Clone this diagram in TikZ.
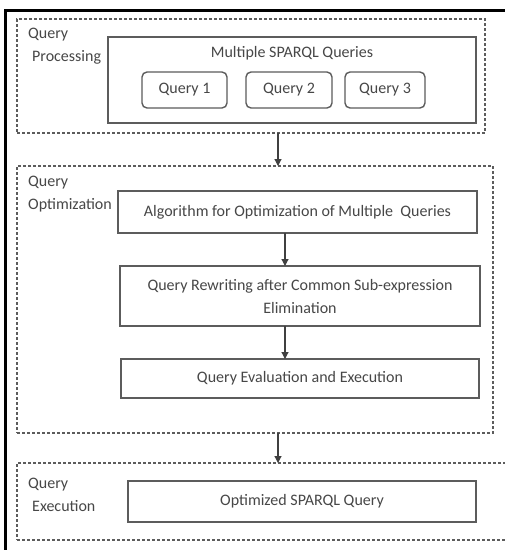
\documentclass[tikz,border=0pt]{standalone}
\usepackage{fontspec}
\setmainfont{Carlito}
\usetikzlibrary{arrows.meta}
\definecolor{edgegray}{HTML}{5C5C5C}
\definecolor{textgray}{HTML}{474747}
\begin{document}
\begin{tikzpicture}[x=1pt,y=-1pt,
  every node/.style={font=\fontsize{16}{23}\selectfont, text=textgray},
  group/.style={draw=edgegray, line width=1.3pt, dash pattern=on 3pt off 2pt,
    inner sep=0pt, outer sep=0pt},
  stepbox/.style={draw=edgegray, line width=1.4pt, inner sep=0pt, outer sep=0pt,
    align=center},
  qbox/.style={stepbox, rounded corners=5pt},
  caption/.style={anchor=west, align=left, inner sep=0pt},
  flow/.style={draw=black!75, line width=1.2pt,
    -{Triangle[width=7pt,length=7pt]}}
]
\useasboundingbox[fill=white] (0,0) rectangle (505,550);

% page frame
\draw[line width=3pt, black] (5,556) -- (5,10) -- (510,10);

% stage 1: query processing
\node[group, minimum width=468pt, minimum height=114pt] (g1) at (251,76) {};
\node[caption] (l1) at (28,46.5) {Query\\\hspace{4pt}Processing};
\node[stepbox, minimum width=368pt, minimum height=86pt] (msq) at (292,80) {};
\node (msqt) at (292,53) {Multiple SPARQL Queries};
\node[qbox, minimum width=85pt, minimum height=36pt] (q1) at (184.5,90) {Query 1};
\node[qbox, minimum width=86pt, minimum height=36pt] (q2) at (289,90) {Query 2};
\node[qbox, minimum width=80pt, minimum height=36pt] (q3) at (385,90) {Query 3};

% stage 2: query optimization
\node[group, minimum width=476pt, minimum height=267pt] (g2) at (255,299.5) {};
\node[caption] (l2) at (28,194.5) {Query\\Optimization};
\node[stepbox, minimum width=359pt, minimum height=42pt] (alg) at (297.5,212)
  {Algorithm for Optimization of Multiple \ Queries};
\node[stepbox, minimum width=360pt, minimum height=60pt] (rw) at (300,296)
  {Query Rewriting after Common Sub-expression\\Elimination};
\node[stepbox, minimum width=358pt, minimum height=39pt] (ev) at (300,378.5)
  {Query Evaluation and Execution};

% stage 3: query execution
\node[group, minimum width=491pt, minimum height=77pt] (g3) at (262.5,501.5) {};
\node[caption] (l3) at (28,494.5) {Query\\\hspace{4pt}Execution};
\node[stepbox, minimum width=348pt, minimum height=41pt] (opt) at (302,501.5)
  {Optimized SPARQL Query};

% connectors
\coordinate (stagex) at (278,0);
\coordinate (stepx) at (285,0);
\draw[flow] (g1.south -| stagex) -- (g2.north -| stagex);
\draw[flow] (alg.south -| stepx) -- (rw.north -| stepx);
\draw[flow] (rw.south -| stepx) -- (ev.north -| stepx);
\draw[flow] (g2.south -| stagex) -- (g3.north -| stagex);
\end{tikzpicture}
\end{document}
